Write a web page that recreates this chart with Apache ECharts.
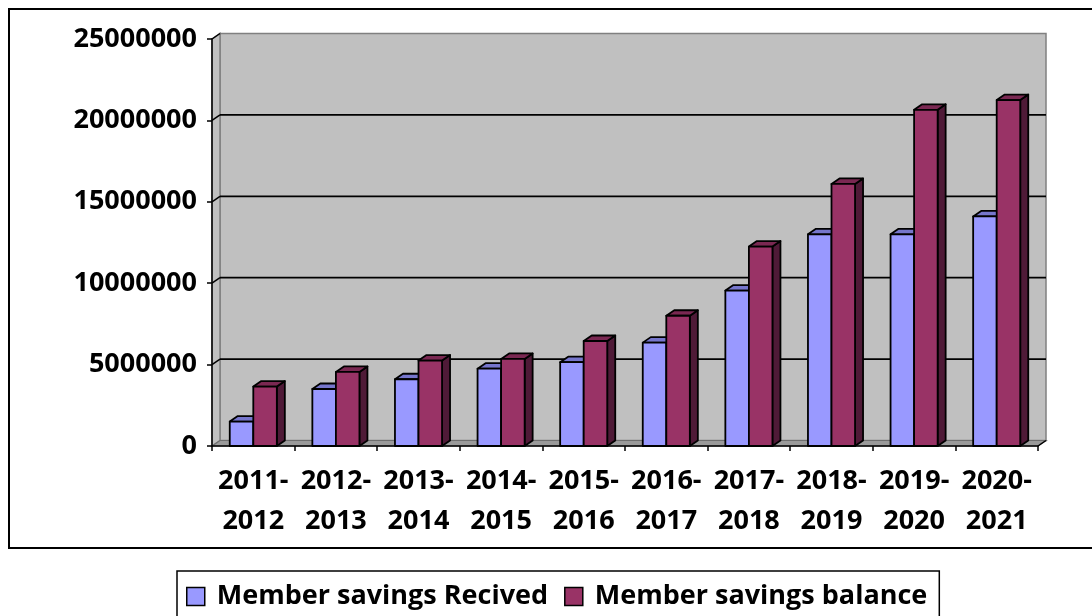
<!DOCTYPE html>
<html>
<head>
<meta charset="utf-8">
<script src="https://cdn.jsdelivr.net/npm/echarts@6/dist/echarts.min.js"></script>
<style>
html,body{margin:0;padding:0;background:#fff;}
#main{width:1092px;height:616px;}
</style>
</head>
<body>
<div id="main"></div>
<script>
var categories = ['2011-\n2012','2012-\n2013','2013-\n2014','2014-\n2015','2015-\n2016','2016-\n2017','2017-\n2018','2018-\n2019','2019-\n2020','2020-\n2021'];
var savingsReceived = [1500000, 3500000, 4100000, 4750000, 5150000, 6350000, 9550000, 13000000, 13000000, 14100000];
var savingsBalance = [3650000, 4550000, 5250000, 5350000, 6450000, 8000000, 12250000, 16100000, 20650000, 21250000];
var yTicks = [0, 5000000, 10000000, 15000000, 20000000, 25000000];
var seriesNames = ['Member savings Recived', 'Member savings balance'];

var FONT = '"Open Sans", sans-serif';
var DX = 8, DY = 5.5;

var faceColors = [
  {front:'#9999ff', top:'#7676cc', side:'#5c5ca8'},
  {front:'#993366', top:'#7a2852', side:'#4f1a37'}
];

function barRender(sIdx){
  return function(params, api){
    var idx = api.value(0);
    var val = api.value(1);
    var base = api.coord([idx, 0]);
    var topP = api.coord([idx, val]);
    var band = api.size([1, 0])[0];
    var w = band * 0.285;
    var x0 = sIdx === 0 ? base[0] - w : base[0];
    var yb = base[1], yt = topP[1];
    var c = faceColors[sIdx];
    var st = {stroke:'#000', lineWidth:1.8, lineJoin:'round'};
    return {
      type:'group',
      children:[
        {type:'polygon', shape:{points:[[x0+w,yt],[x0+w+DX,yt-DY],[x0+w+DX,yb-DY],[x0+w,yb]]}, style:Object.assign({fill:c.side}, st)},
        {type:'polygon', shape:{points:[[x0,yt],[x0+DX,yt-DY],[x0+w+DX,yt-DY],[x0+w,yt]]}, style:Object.assign({fill:c.top}, st)},
        {type:'rect', shape:{x:x0, y:yt, width:w, height:yb-yt}, style:Object.assign({fill:c.front}, st)}
      ]
    };
  };
}

function wallRender(params, api){
  var band = api.size([1, 0])[0];
  var left = api.coord([0, 0])[0] - band/2;
  var right = api.coord([categories.length-1, 0])[0] + band/2;
  var y0 = api.coord([0, 0])[1];
  var yTop = api.coord([0, yTicks[yTicks.length-1]])[1];
  var children = [];
  children.push({type:'rect', shape:{x:left+DX, y:yTop-DY, width:right-left, height:y0-yTop},
    style:{fill:'#c0c0c0', stroke:'#808080', lineWidth:1.5}});
  children.push({type:'polygon', shape:{points:[[left,yTop],[left+DX,yTop-DY],[left+DX,y0-DY],[left,y0]]},
    style:{fill:'#c0c0c0', stroke:'#808080', lineWidth:1.5}});
  children.push({type:'polygon', shape:{points:[[left,y0],[left+DX,y0-DY],[right+DX,y0-DY],[right,y0]]},
    style:{fill:'#9a9a9a', stroke:'#6e6e6e', lineWidth:1.2}});
  for (var i = 1; i < yTicks.length-1; i++){
    var y = api.coord([0, yTicks[i]])[1];
    children.push({type:'line', shape:{x1:left+DX, y1:y-DY, x2:right+DX, y2:y-DY}, style:{stroke:'#000', lineWidth:1.8}});
    children.push({type:'line', shape:{x1:left, y1:y, x2:left+DX, y2:y-DY}, style:{stroke:'#000', lineWidth:1.5}});
  }
  children.push({type:'line', shape:{x1:left, y1:yTop, x2:left+DX, y2:yTop-DY}, style:{stroke:'#000', lineWidth:1.5}});
  children.push({type:'line', shape:{x1:right, y1:y0, x2:right+DX, y2:y0-DY}, style:{stroke:'#000', lineWidth:1.5}});
  return {type:'group', children:children};
}

var chart = echarts.init(document.getElementById('main'));
chart.setOption({
  backgroundColor:'#fff',
  animation:false,
  grid:{left:212, right:54, top:39, bottom:170},
  graphic:[
    {type:'rect', shape:{x:9, y:9, width:1100, height:539}, style:{fill:null, stroke:'#000', lineWidth:2}, z:-10, silent:true}
  ],
  legend:{
    left:177, top:571,
    orient:'horizontal',
    padding:[12, 12, 12, 9],
    itemGap:16,
    itemWidth:18, itemHeight:18,
    borderColor:'#000', borderWidth:1.5,
    data:[
      {name:seriesNames[0], icon:'rect', itemStyle:{color:'#9999ff', borderColor:'#000', borderWidth:1.5}},
      {name:seriesNames[1], icon:'rect', itemStyle:{color:'#993366', borderColor:'#000', borderWidth:1.5}}
    ],
    textStyle:{fontFamily:FONT, fontWeight:'bold', fontSize:27, color:'#000', lineHeight:26, padding:[0,0,0,7]}
  },
  xAxis:{
    type:'category',
    data:categories,
    boundaryGap:true,
    z:10,
    axisLine:{show:true, lineStyle:{color:'#000', width:1.5}},
    axisTick:{show:true, inside:false, length:5, alignWithLabel:false, lineStyle:{color:'#000', width:1.5}},
    axisLabel:{fontFamily:FONT, fontWeight:'bold', fontSize:27, color:'#000', lineHeight:40, margin:15, interval:0},
    splitLine:{show:false}
  },
  yAxis:{
    type:'value',
    min:0, max:25000000, interval:5000000,
    z:10,
    axisLine:{show:true, lineStyle:{color:'#000', width:1.5}},
    axisTick:{show:true, length:5, lineStyle:{color:'#000', width:1.5}},
    axisLabel:{fontFamily:FONT, fontWeight:'bold', fontSize:27, color:'#000', margin:15,
      formatter:function(v){return String(v);}},
    splitLine:{show:false}
  },
  series:[
    {type:'custom', name:'walls', renderItem:wallRender, data:[[0,0]], z:1, silent:true, legendHoverLink:false},
    {type:'custom', name:seriesNames[0], renderItem:barRender(0), z:2,
      itemStyle:{color:'#9999ff'},
      encode:{x:0, y:1},
      data:savingsReceived.map(function(v,i){return [i, v];})},
    {type:'custom', name:seriesNames[1], renderItem:barRender(1), z:3,
      itemStyle:{color:'#993366'},
      encode:{x:0, y:1},
      data:savingsBalance.map(function(v,i){return [i, v];})}
  ]
});
</script>
</body>
</html>
